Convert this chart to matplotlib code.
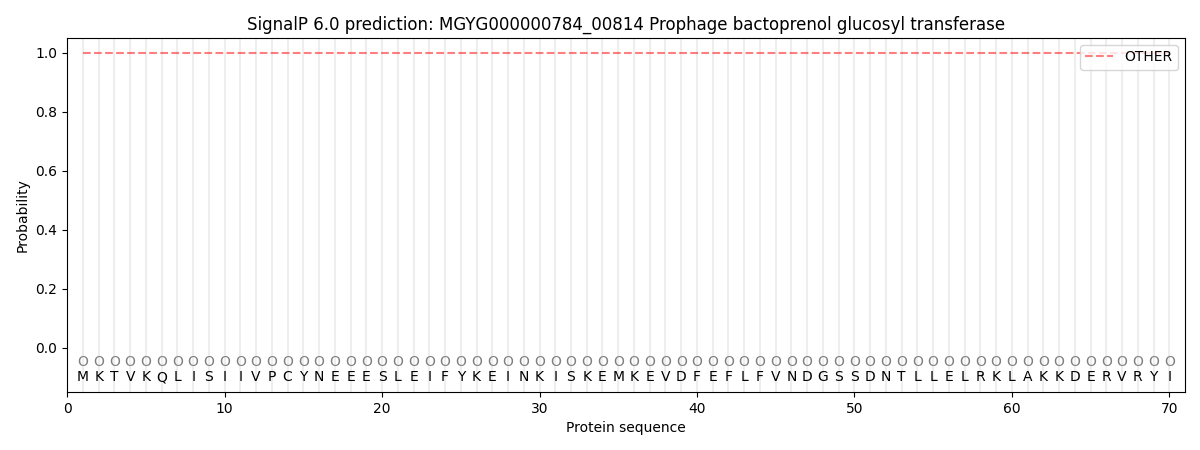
import numpy as np
import matplotlib
matplotlib.use('Agg')
import matplotlib.pyplot as plt

sequence = list("MKTVKQLISIIVPCYNEEESLEIFYKEINKISKEMKEVDFEFLFVNDGSSDNTLLELRKLAKKDERVRYI")
positions = np.arange(1, len(sequence) + 1)
prob_other = [1.0] * len(sequence)
labels = ["O"] * len(sequence)

fig = plt.figure(figsize=(12, 4.5))
ax = fig.add_subplot(111)
fig.subplots_adjust(left=0.056, right=0.9875, top=0.916, bottom=0.129)

# light vertical guides at every residue
for p in positions:
    ax.axvline(p, color='#eeeeee', linewidth=1.5, zorder=0)

ax.plot(positions, prob_other, '--', color='red', alpha=0.5, label='OTHER')

for p, lab, aa in zip(positions, labels, sequence):
    ax.text(p, -0.05, lab, ha='center', va='center', color='grey', fontsize=10)
    ax.text(p, -0.1, aa, ha='center', va='center', color='black', fontsize=10)

ax.set_xlim(0, 71)
ax.set_ylim(-0.15, 1.05)
ax.set_xlabel('Protein sequence')
ax.set_ylabel('Probability')
ax.set_title('SignalP 6.0 prediction: MGYG000000784_00814 Prophage bactoprenol glucosyl transferase')
ax.legend(loc='upper right')

plt.savefig('out.png', dpi=100)
